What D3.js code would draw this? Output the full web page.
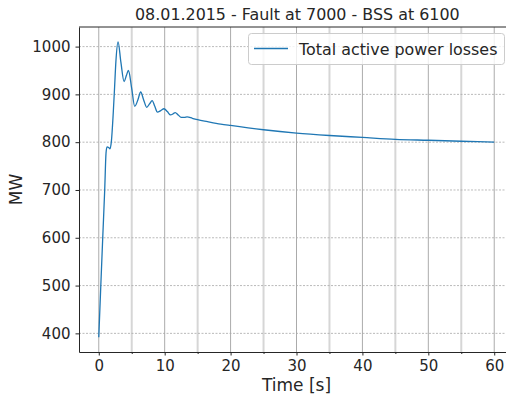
<!DOCTYPE html>
<html>
<head>
<meta charset="utf-8">
<script src="https://cdnjs.cloudflare.com/ajax/libs/d3/7.8.5/d3.min.js"></script>
<style>
    body { margin: 0; background: #fff; }
    svg { font-family: "DejaVu Sans", sans-serif; }
</style>
</head>
<body>
<svg width="506" height="400"></svg>
<script>
// values
var chartTitle = "08.01.2015 - Fault at 7000 - BSS at 6100";
var seriesName = "Total active power losses";
var time = [0, 0.3, 0.6, 0.9, 1.1, 1.25, 1.5, 1.7, 1.9, 2.2, 2.4, 2.6, 2.93, 3.35, 3.84, 4.2, 4.5, 5.0, 5.45, 5.9, 6.36, 6.8, 7.27, 7.7, 8.1, 8.5, 8.9, 9.4, 9.9, 10.4, 10.9, 11.25, 11.6, 12.05, 12.5, 13.0, 13.4, 14.2, 15, 16.5, 18.5, 20, 25, 30, 35, 40, 45, 50, 55, 60];
var power = [392, 497, 600, 700, 777, 790, 789, 786, 800, 862, 915, 969, 1010, 968, 927, 940, 950, 912, 875, 887, 905, 889, 873, 880, 887, 875, 863, 866, 870, 864, 857, 859, 862, 857, 852, 852, 853, 850, 847, 843, 838, 835, 826, 819, 814, 810, 806, 804, 802, 800];
var xTicks = [0, 10, 20, 30, 40, 50, 60];
var xMinorTicks = [5, 15, 25, 35, 45, 55];
var yTicks = [400, 500, 600, 700, 800, 900, 1000];

var data = time.map(function(t, i) {
    return { t: t, v: power[i] };
});

var pLeft = 79, pRight = 514, pTop = 27, pBottom = 352;

var x = d3.scaleLinear().domain([-3, 63]).range([pLeft, pRight]);
var y = d3.scaleLinear().domain([361, 1041]).range([pBottom, pTop]);

var svg = d3.select("svg");

// minor vertical grid (light, thick)
svg.append("g")
    .selectAll("line")
    .data(xMinorTicks)
    .enter().append("line")
    .attr("x1", function(d) { return x(d); })
    .attr("x2", function(d) { return x(d); })
    .attr("y1", pTop)
    .attr("y2", pBottom)
    .style("stroke", "#d6d6d6")
    .style("stroke-width", 2);

// major vertical grid
svg.append("g")
    .selectAll("line")
    .data(xTicks)
    .enter().append("line")
    .attr("x1", function(d) { return x(d); })
    .attr("x2", function(d) { return x(d); })
    .attr("y1", pTop)
    .attr("y2", pBottom)
    .style("stroke", "#ababab")
    .style("stroke-width", 1);

// horizontal dashed grid
svg.append("g")
    .selectAll("line")
    .data(yTicks)
    .enter().append("line")
    .attr("x1", pLeft)
    .attr("x2", pRight)
    .attr("y1", function(d) { return y(d); })
    .attr("y2", function(d) { return y(d); })
    .style("stroke", "#a8a8a8")
    .style("stroke-width", 0.8)
    .style("stroke-dasharray", "2,1.5");

// the line
var line = d3.line()
    .x(function(d) { return x(d.t); })
    .y(function(d) { return y(d.v); })
    .curve(d3.curveMonotoneX);

svg.append("path")
    .datum(data)
    .attr("d", line)
    .style("fill", "none")
    .style("stroke", "#1f77b4")
    .style("stroke-width", 1.3);

// axes
svg.append("g")
    .attr("transform", "translate(0," + pBottom + ")")
    .call(d3.axisBottom(x).tickValues(xTicks).tickSize(3.5).tickPadding(5).tickSizeOuter(0));
var xMinor = svg.append("g")
    .attr("transform", "translate(0," + pBottom + ")")
    .call(d3.axisBottom(x).tickValues(xMinorTicks).tickSize(2).tickFormat("").tickSizeOuter(0));
xMinor.select(".domain").remove();

svg.append("g")
    .attr("transform", "translate(" + pLeft + ",0)")
    .call(d3.axisLeft(y).tickValues(yTicks).tickFormat(d3.format("d")).tickSize(3.5).tickPadding(5).tickSizeOuter(0));

svg.selectAll(".tick text")
    .style("font-size", "15px")
    .style("fill", "#262626")
    .style("font-family", "DejaVu Sans");
svg.selectAll(".domain").style("stroke", "#262626");
svg.selectAll(".tick line").style("stroke", "#262626");

// top spine
svg.append("line")
    .attr("x1", pLeft).attr("x2", pRight)
    .attr("y1", pTop).attr("y2", pTop)
    .style("stroke", "#262626");

// labels
svg.append("text")
    .attr("x", 135)
    .attr("y", 20)
    .style("font-size", "15.9px")
    .style("fill", "#262626")
    .text(chartTitle);

svg.append("text")
    .attr("x", x(30))
    .attr("y", 391)
    .attr("text-anchor", "middle")
    .style("font-size", "17px")
    .style("fill", "#262626")
    .text("Time [s]");

svg.append("text")
    .attr("transform", "translate(22," + ((pTop + pBottom) / 2) + ") rotate(-90)")
    .attr("text-anchor", "middle")
    .style("font-size", "17px")
    .style("fill", "#262626")
    .text("MW");

// legend
var legend = svg.append("g");
legend.append("rect")
    .attr("x", 248.5).attr("y", 33.5)
    .attr("width", 256).attr("height", 31)
    .attr("rx", 3)
    .style("fill", "rgba(255,255,255,0.8)")
    .style("stroke", "#cccccc");
legend.append("line")
    .attr("x1", 254).attr("x2", 288)
    .attr("y1", 48.5).attr("y2", 48.5)
    .style("stroke", "#1f77b4")
    .style("stroke-width", 1.3);
legend.append("text")
    .attr("x", 299)
    .attr("y", 54.5)
    .style("font-size", "15.9px")
    .style("fill", "#262626")
    .text(seriesName);
</script>
</body>
</html>
